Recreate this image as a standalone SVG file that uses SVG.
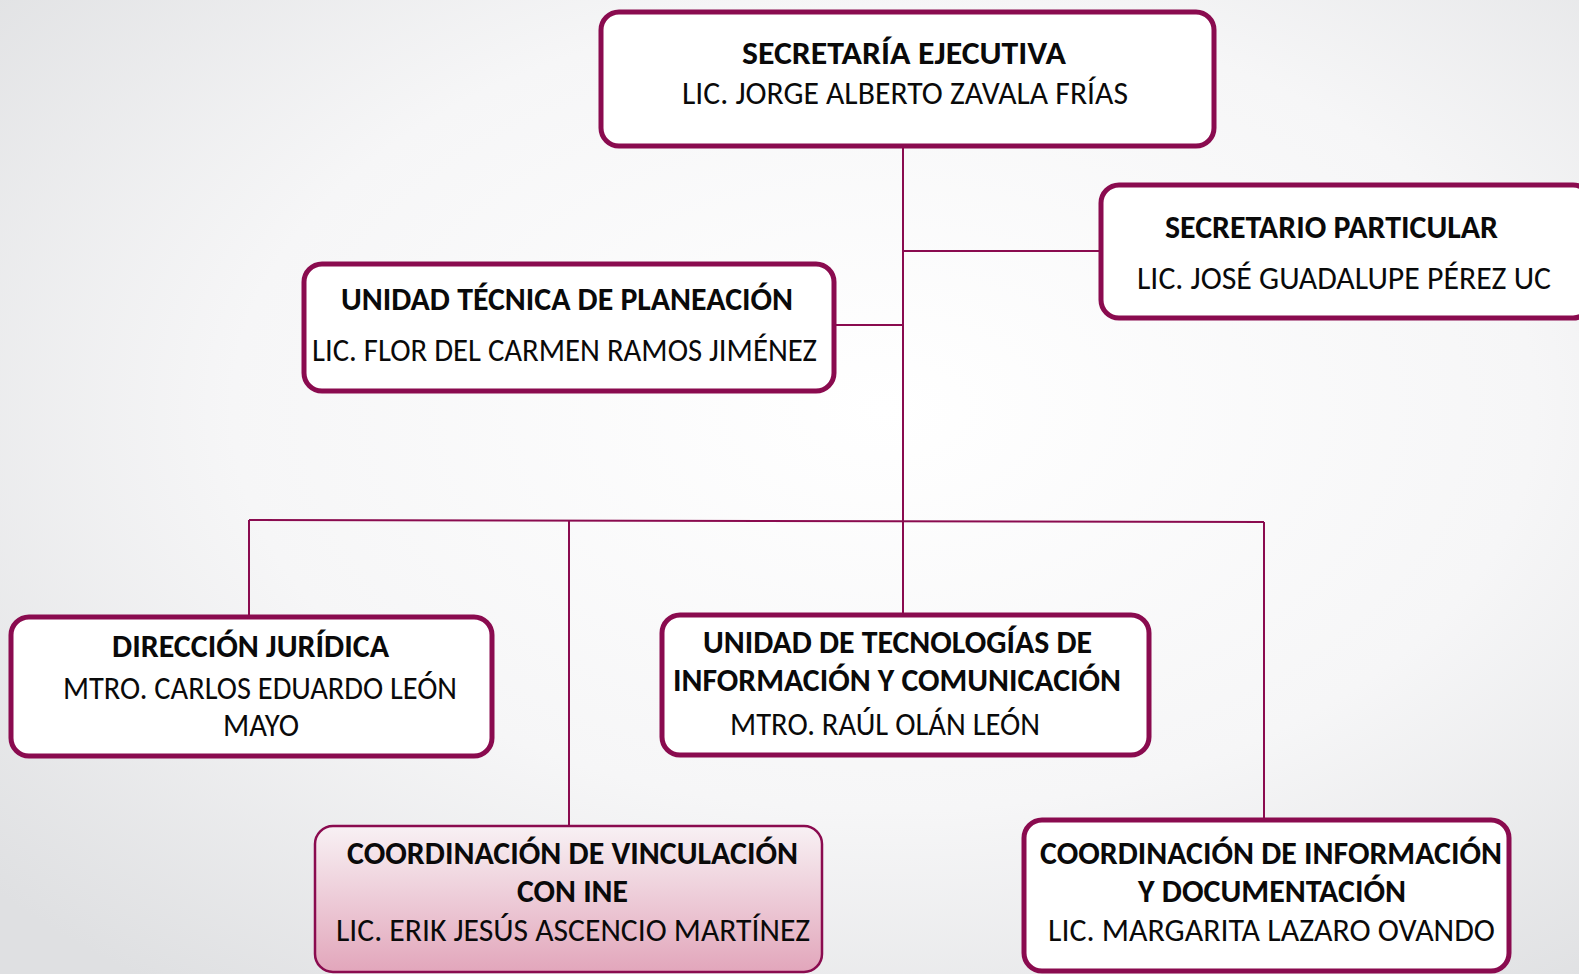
<svg xmlns="http://www.w3.org/2000/svg" width="1579" height="974" viewBox="0 0 1579 974">
<defs>
<radialGradient id="bg" cx="0.56" cy="0.42" r="0.75">
<stop offset="0" stop-color="#ffffff"/>
<stop offset="0.55" stop-color="#f6f6f7"/>
<stop offset="1" stop-color="#dfe0e2"/>
</radialGradient>
<linearGradient id="pink" x1="0" y1="0" x2="0" y2="1">
<stop offset="0" stop-color="#f8f1f4"/>
<stop offset="1" stop-color="#e2a6bb"/>
</linearGradient>
<style>
.box{fill:#ffffff;stroke:#8a0b4f;stroke-width:5}
.box2{fill:url(#pink);stroke:#8a0b4f;stroke-width:2.5}
.conn line{stroke:#8a0b4f;stroke-width:2}
text{font-family:Carlito,"Open Sans","Liberation Sans",sans-serif;fill:#0a0a0a;font-size:32px}
.b{font-weight:bold}
</style>
</defs>
<rect x="0" y="0" width="1579" height="974" fill="url(#bg)"/>
<g id="connectors" class="conn">
<line x1="903" y1="146" x2="903" y2="614"/>
<line x1="903" y1="251" x2="1101" y2="251"/>
<line x1="834" y1="325" x2="903" y2="325"/>
<line x1="249" y1="520" x2="1264" y2="522"/>
<line x1="249" y1="520" x2="249" y2="616"/>
<line x1="569" y1="520" x2="569" y2="826"/>
<line x1="1264" y1="522" x2="1264" y2="820"/>
</g>
<g id="secretaria-ejecutiva">
<rect class="box" x="601" y="12" width="613" height="134" rx="18"/>
<text class="b" x="742" y="64" textLength="324" lengthAdjust="spacingAndGlyphs">SECRETARÍA EJECUTIVA</text>
<text x="682" y="104" textLength="446" lengthAdjust="spacingAndGlyphs">LIC. JORGE ALBERTO ZAVALA FRÍAS</text>
</g>
<g id="secretario-particular">
<rect class="box" x="1101" y="185" width="490" height="133" rx="18"/>
<text class="b" x="1165" y="238" textLength="333" lengthAdjust="spacingAndGlyphs">SECRETARIO PARTICULAR</text>
<text x="1137" y="289" textLength="414" lengthAdjust="spacingAndGlyphs">LIC. JOSÉ GUADALUPE PÉREZ UC</text>
</g>
<g id="unidad-tecnica-planeacion">
<rect class="box" x="304" y="264" width="530" height="127" rx="18"/>
<text class="b" x="341" y="310" textLength="452" lengthAdjust="spacingAndGlyphs">UNIDAD TÉCNICA DE PLANEACIÓN</text>
<text x="312" y="361" textLength="505" lengthAdjust="spacingAndGlyphs">LIC. FLOR DEL CARMEN RAMOS JIMÉNEZ</text>
</g>
<g id="direccion-juridica">
<rect class="box" x="11" y="617" width="481" height="139" rx="18"/>
<text class="b" x="112" y="657" textLength="277" lengthAdjust="spacingAndGlyphs">DIRECCIÓN JURÍDICA</text>
<text x="63" y="699" textLength="394" lengthAdjust="spacingAndGlyphs">MTRO. CARLOS EDUARDO LEÓN</text>
<text x="223" y="736" textLength="76" lengthAdjust="spacingAndGlyphs">MAYO</text>
</g>
<g id="unidad-tecnologias">
<rect class="box" x="662" y="615" width="487" height="140" rx="18"/>
<text class="b" x="703" y="653" textLength="389" lengthAdjust="spacingAndGlyphs">UNIDAD DE TECNOLOGÍAS DE</text>
<text class="b" x="673" y="691" textLength="448" lengthAdjust="spacingAndGlyphs">INFORMACIÓN Y COMUNICACIÓN</text>
<text x="730" y="735" textLength="310" lengthAdjust="spacingAndGlyphs">MTRO. RAÚL OLÁN LEÓN</text>
</g>
<g id="coordinacion-vinculacion-ine">
<rect class="box2" x="315" y="826" width="507" height="146" rx="18"/>
<text class="b" x="347" y="864" textLength="451" lengthAdjust="spacingAndGlyphs">COORDINACIÓN DE VINCULACIÓN</text>
<text class="b" x="517" y="902" textLength="111" lengthAdjust="spacingAndGlyphs">CON INE</text>
<text x="336" y="941" textLength="474" lengthAdjust="spacingAndGlyphs">LIC. ERIK JESÚS ASCENCIO MARTÍNEZ</text>
</g>
<g id="coordinacion-informacion">
<rect class="box" x="1024" y="820" width="485" height="151" rx="18"/>
<text class="b" x="1040" y="864" textLength="462" lengthAdjust="spacingAndGlyphs">COORDINACIÓN DE INFORMACIÓN</text>
<text class="b" x="1138" y="902" textLength="268" lengthAdjust="spacingAndGlyphs">Y DOCUMENTACIÓN</text>
<text x="1048" y="941" textLength="447" lengthAdjust="spacingAndGlyphs">LIC. MARGARITA LAZARO OVANDO</text>
</g>
</svg>
